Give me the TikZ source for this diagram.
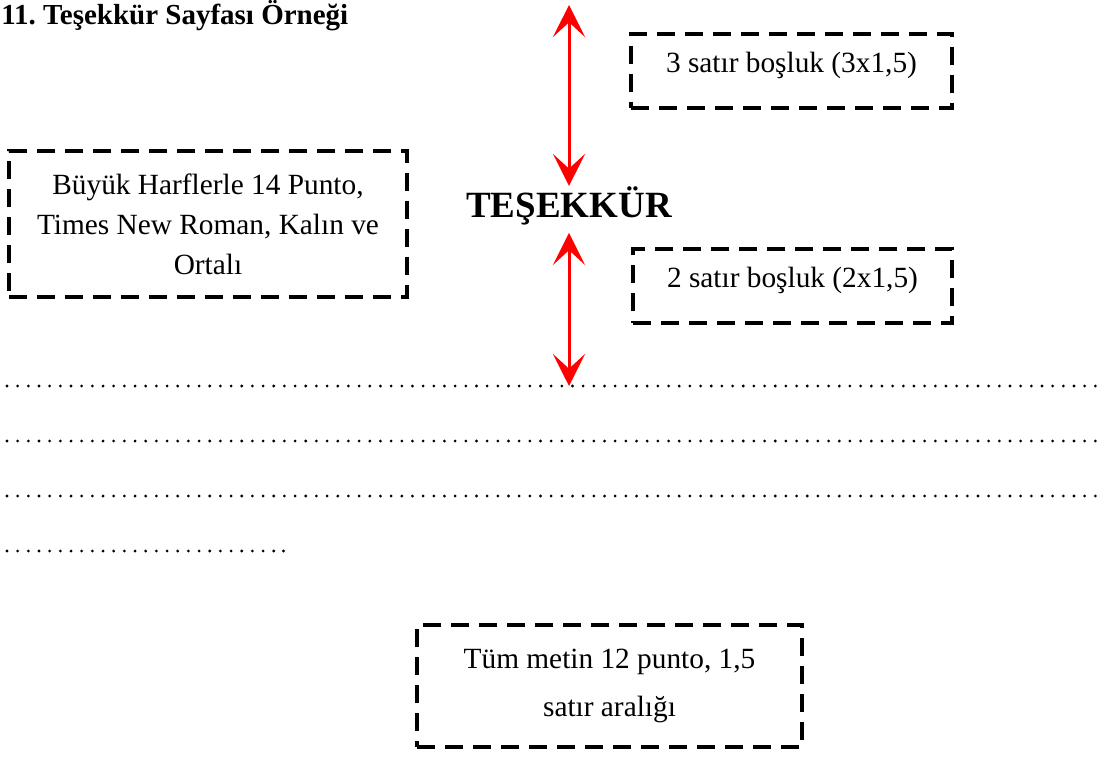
\documentclass[tikz,border=0pt]{standalone}
\usepackage{fontspec}
\setmainfont{Liberation Serif}
\frenchspacing
\usetikzlibrary{positioning,arrows.meta}
\definecolor{okkirmizi}{RGB}{255,0,0}

\begin{document}
\begin{tikzpicture}[x=0.75pt,y=-0.75pt,
    kutu/.style={draw,line width=2.6pt,dash pattern=on 13.5pt off 7.5pt,
        align=center,inner sep=0pt,font=\fontsize{22}{30}\selectfont},
    tekkutu/.style={kutu,text height=0.69em,text depth=0.52em},
    ok/.style={okkirmizi,line width=2.25pt,
        {Stealth[length=24pt,width=24pt,inset=11pt]}-{Stealth[length=24pt,width=24pt,inset=11pt]}}]
    \useasboundingbox (0,0) rectangle (1105,758);
    % baslik ve aciklama kutulari
    \node[anchor=base west,inner sep=0pt,font=\fontsize{21.75}{26}\selectfont\bfseries]
        (sayfabaslik) at (1,24) {11. Teşekkür Sayfası Örneği};
    \node[anchor=base,inner sep=0pt,font=\fontsize{27.75}{32}\selectfont\bfseries]
        (baslik) at (569,217) {TEŞEKKÜR};
    \node[kutu,minimum width=298.5pt,minimum height=109.5pt] (harfler) at (208,224)
        {Büyük Harflerle 14 Punto,\\Times New Roman, Kalın ve\\Ortalı};
    \node[tekkutu,minimum width=240.75pt,minimum height=55.5pt] (bosluk3) at (791.5,71)
        {3 satır boşluk (3x1,5)};
    \node[tekkutu,minimum width=239.25pt,minimum height=55.5pt] (bosluk2) at (792.5,286)
        {2 satır boşluk (2x1,5)};
    \node[kutu,font=\fontsize{22}{36}\selectfont,minimum width=288.75pt,minimum height=91.5pt]
        (metin) at (609.5,686) {Tüm metin 12 punto, 1,5\\satır aralığı};
    % noktali satirlar
    \coordinate (ust) at (569,5);
    \coordinate (satir1) at (569,386);
    \foreach \y in {386,441,496}
        \foreach \i in {0,...,102}
            \fill (7+\i*10.67,\y) circle (1.15pt);
    \foreach \i in {0,...,25}
        \fill (7+\i*10.67,551) circle (1.15pt);
    \fill (283.5,551) circle (1.15pt);
    % bosluk oklari
    \draw[ok] (ust) -- (baslik);
    \draw[ok,shorten <=6pt] (baslik) -- (satir1);
\end{tikzpicture}
\end{document}
